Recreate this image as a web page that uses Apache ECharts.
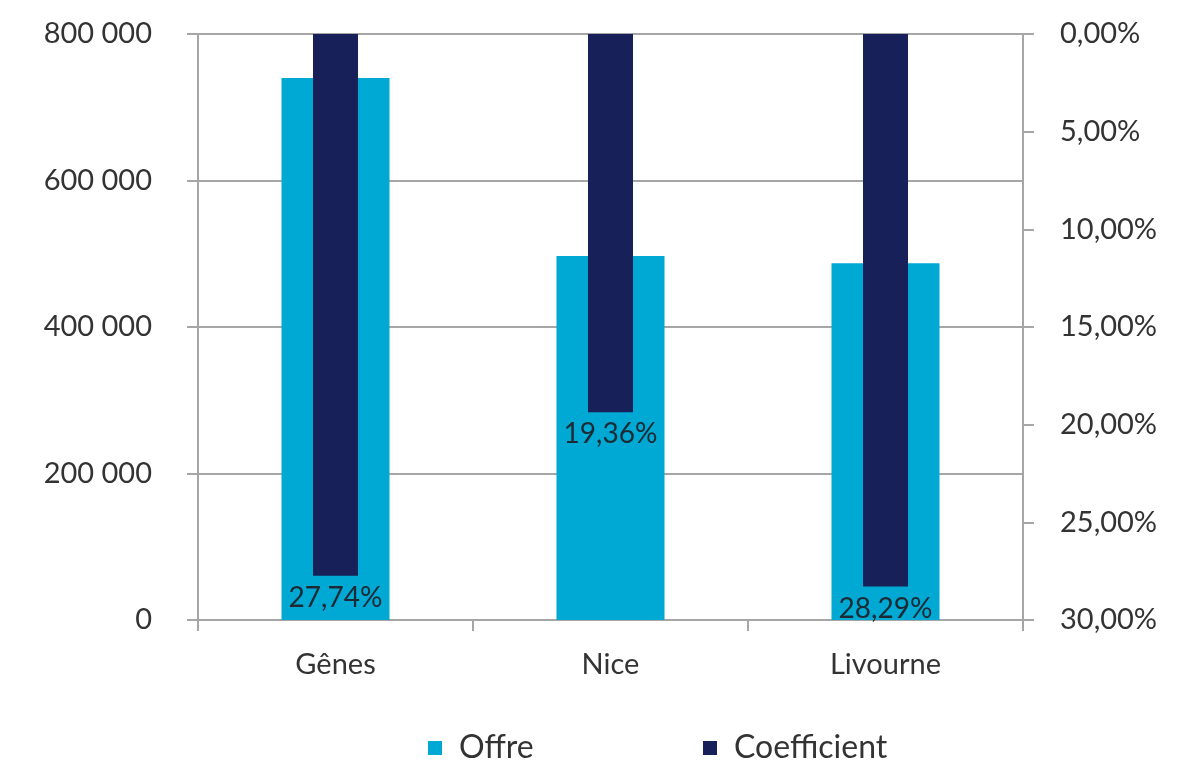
<!DOCTYPE html>
<html>
<head>
<meta charset="utf-8">
<script src="https://cdn.jsdelivr.net/npm/echarts@6/dist/echarts.min.js"></script>
<style>
html,body{margin:0;padding:0;background:#fff;}
#chart{width:1185px;height:775px;}
</style>
</head>
<body>
<div id="chart"></div>
<script>
const categories = ['Gênes', 'Nice', 'Livourne'];
const offre = [740000, 497000, 487000];
const coefficient = [27.74, 19.36, 28.29];
const leftTicks = { min: 0, max: 800000, interval: 200000 };
const rightTicks = { min: 0, max: 30, interval: 5 };

const FONT = 'Lato, "Open Sans", sans-serif';
const TXT = '#333333';
const GRID = '#a6a6a6';
const LIGHT = '#00a8d4';
const DARK = '#172059';

function fmtThousands(v) {
  return String(v).replace(/\B(?=(\d{3})+(?!\d))/g, ' ');
}
function fmtPct(v) {
  return v.toFixed(2).replace('.', ',') + '%';
}

const chart = echarts.init(document.getElementById('chart'), null, { renderer: 'canvas' });
chart.setOption({
  animation: false,
  backgroundColor: '#ffffff',
  grid: { left: 198, right: 162, top: 34, bottom: 155, containLabel: false },
  legend: [
    {
      data: ['Offre'], left: 423, top: 727, itemWidth: 14, itemHeight: 14, icon: 'rect',
      textStyle: { fontFamily: FONT, fontSize: 32, color: TXT, padding: [0, 0, 0, 12] }
    },
    {
      data: ['Coefficient'], left: 698, top: 727, itemWidth: 14, itemHeight: 14, icon: 'rect',
      textStyle: { fontFamily: FONT, fontSize: 32, color: TXT, padding: [0, 0, 0, 12] }
    }
  ],
  xAxis: [
    {
      type: 'category', data: categories, boundaryGap: true,
      axisLine: { show: true, lineStyle: { color: GRID, width: 2 } },
      axisTick: { show: true, alignWithLabel: false, length: 11, lineStyle: { color: GRID, width: 2 } },
      axisLabel: { fontFamily: FONT, fontSize: 29, color: TXT, margin: 30 }
    },
    {
      type: 'category', data: categories, boundaryGap: true, show: false
    }
  ],
  yAxis: [
    {
      type: 'value', position: 'left', min: leftTicks.min, max: leftTicks.max, interval: leftTicks.interval,
      axisLine: { show: true, lineStyle: { color: GRID, width: 2 } },
      axisTick: { show: true, length: 11, lineStyle: { color: GRID, width: 2 } },
      splitLine: { show: true, lineStyle: { color: GRID, width: 2 } },
      axisLabel: { fontFamily: FONT, fontSize: 29, color: TXT, margin: 46, formatter: fmtThousands }
    },
    {
      type: 'value', position: 'right', inverse: true, min: rightTicks.min, max: rightTicks.max, interval: rightTicks.interval,
      axisLine: { show: true, lineStyle: { color: GRID, width: 2 } },
      axisTick: { show: true, length: 11, lineStyle: { color: GRID, width: 2 } },
      splitLine: { show: false },
      axisLabel: { fontFamily: FONT, fontSize: 29, color: TXT, margin: 37, formatter: fmtPct }
    }
  ],
  series: [
    {
      name: 'Offre', type: 'bar', xAxisIndex: 0, yAxisIndex: 0, data: offre,
      barWidth: 108, itemStyle: { color: LIGHT }, z: 2
    },
    {
      name: 'Coefficient', type: 'bar', xAxisIndex: 1, yAxisIndex: 1, data: coefficient,
      barWidth: 45, itemStyle: { color: DARK }, z: 3,
      label: {
        show: true, position: 'bottom', distance: 8,
        fontFamily: FONT, fontSize: 28, color: '#1b2a33',
        formatter: p => fmtPct(p.value)
      }
    }
  ]
});
</script>
</body>
</html>
